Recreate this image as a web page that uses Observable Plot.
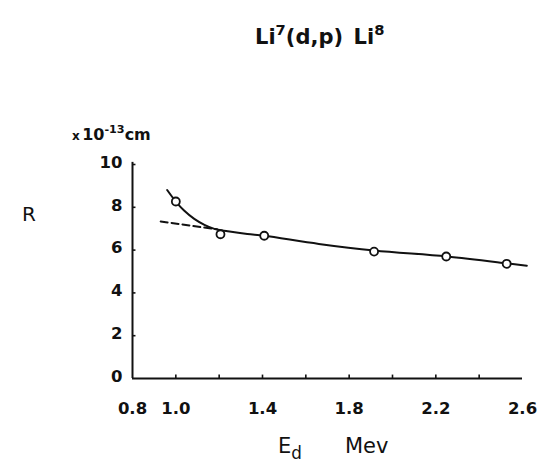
<!DOCTYPE html>
<html><head><meta charset="utf-8">
<script src="https://cdn.jsdelivr.net/npm/d3@7"></script>
<script src="https://cdn.jsdelivr.net/npm/@observablehq/plot@0.6"></script>
<style>
  html, body { margin: 0; padding: 0; background: #fff; }
  svg { display: block; }
</style>
</head><body><div id="chart"></div>
<script>
// Measured points: deuteron energy E_d (MeV) and interaction radius R (x 10^-13 cm)
const energy = [1.0, 1.206, 1.408, 1.915, 2.248, 2.527];
const radius = [8.27, 6.74, 6.67, 5.93, 5.70, 5.36];

// Smooth curve through the measurements
const curveE = [0.96, 1.0, 1.038, 1.085, 1.132, 1.178, 1.24, 1.33, 1.408, 1.66, 1.915, 2.25, 2.53, 2.62];
const curveR = [8.81, 8.27, 7.85, 7.46, 7.18, 6.99, 6.88, 6.75, 6.67, 6.29, 5.98, 5.70, 5.38, 5.27];

// Dashed extrapolation toward low energy
const dashE = [0.93, 1.19];
const dashR = [7.34, 6.97];

// Axis ticks and labels
const xTicks = [1.0, 1.2, 1.4, 1.6, 1.8, 2.0, 2.2, 2.4];
const xTickLabels = [0.8, 1.0, 1.4, 1.8, 2.2, 2.6];
const yTicks = [2, 4, 6, 8, 10];
const yTickLabels = [0, 2, 4, 6, 8, 10];

const points = energy.map((e, i) => ({e, r: radius[i]}));
const curve = curveE.map((e, i) => ({e, r: curveR[i]}));
const dash = dashE.map((e, i) => ({e, r: dashR[i]}));

const font = "DejaVu Sans";
const ink = "#111";

const plot = Plot.plot({
  width: 539,
  height: 462,
  marginLeft: 132,
  marginRight: 17,
  marginTop: 164,
  marginBottom: 84,
  x: {domain: [0.8, 2.6], axis: null},
  y: {domain: [0, 10], axis: null},
  style: {background: "#fff", fontFamily: font},
  marks: [
    // axis lines
    Plot.ruleY([0], {x1: 0.8, x2: 2.6, stroke: ink, strokeWidth: 2}),
    Plot.ruleX([0.8], {y1: 0, y2: 10.1, stroke: ink, strokeWidth: 2}),
    // inward ticks
    Plot.ruleX(xTicks, {x: d => d, y1: 0, y2: 0.16, stroke: ink, strokeWidth: 1.6}),
    Plot.ruleY(yTicks, {y: d => d, x1: 0.8, x2: 0.816, stroke: ink, strokeWidth: 1.6}),
    // tick labels
    Plot.text(xTickLabels, {x: d => d, y: 0, dy: 30, text: d => d.toFixed(1),
      fontSize: 16.5, fontWeight: "bold", fontFamily: font, fill: ink}),
    Plot.text(yTickLabels, {x: 0.8, y: d => d, dx: -10, dy: -2, text: d => String(d), textAnchor: "end",
      fontSize: 16.5, fontWeight: "bold", fontFamily: font, fill: ink}),
    // extrapolation and fitted curve
    Plot.line(dash, {x: "e", y: "r", stroke: ink, strokeWidth: 2, strokeDasharray: "7,4"}),
    Plot.line(curve, {x: "e", y: "r", stroke: ink, strokeWidth: 2, curve: "catmull-rom"}),
    // measurements
    Plot.dot(points, {x: "e", y: "r", r: 4, stroke: ink, strokeWidth: 1.8, fill: "#fff"})
  ]
});
document.getElementById("chart").append(plot);

// Text annotations with super/subscripts (left-aligned at x)
const svg = d3.select(plot);
function label(x, y, parts, size, weight) {
  const t = svg.append("text")
    .attr("x", x).attr("y", y)
    .attr("text-anchor", "start")
    .attr("font-family", font)
    .attr("font-size", size)
    .attr("font-weight", weight)
    .attr("fill", ink);
  for (const [s, shift, scale] of parts) {
    const span = t.append("tspan").text(s);
    if (shift) span.attr("dy", shift);
    if (scale) span.attr("font-size", size * scale);
  }
  return t;
}
label(255, 44, [["Li"], ["7", -9, 0.7], ["(d,p)", 9], ["\u2002Li"], ["8", -9, 0.7]], 21, "bold");
label(72, 140, [["x\u2009", 0, 0.75], ["10", 0, 1], ["-13", -7, 0.7], ["cm", 7, 1]], 16, "bold");
label(22, 221, [["R"]], 20, "normal");
label(278, 453, [["E"], ["d", 6, 0.8]], 21, "normal");
label(345, 453, [["Mev"]], 21, "normal");
</script>
</body></html>
